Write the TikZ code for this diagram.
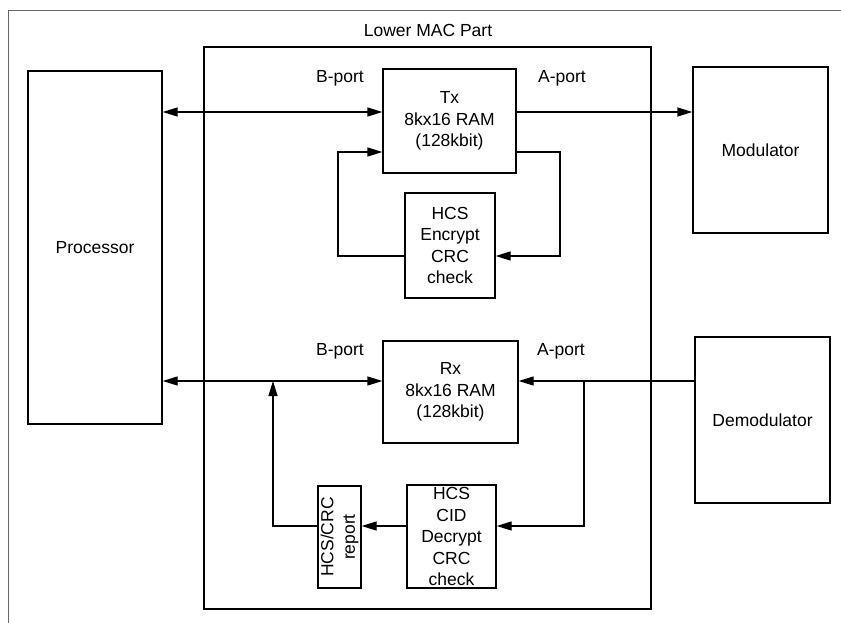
\documentclass[tikz,border=0pt]{standalone}
\usepackage{fontspec}
\setmainfont{Liberation Sans}
\usetikzlibrary{arrows.meta}
\begin{document}
\begin{tikzpicture}[x=1pt,y=-1pt,
  box/.style={draw, line width=1.3pt, inner sep=0pt, align=center,
    font=\fontsize{17.5}{21.5}\selectfont},
  lbl/.style={inner sep=0pt, font=\fontsize{17.5}{21.5}\selectfont},
  arr/.style={line width=1.3pt, -{Triangle[length=15pt,width=9pt]}},
  darr/.style={line width=1.3pt, {Triangle[length=15pt,width=9pt]}-{Triangle[length=15pt,width=9pt]}}]
\useasboundingbox (0,0) rectangle (841,623);
% outer frame (cut off at right and bottom)
\draw[line width=0.9pt, black!60] (8,623) -- (8,10) -- (841,10);
% blocks
\node[box, line width=2.2pt, minimum width=447pt, minimum height=562pt] (mac) at (427.5,328) {};
\node[lbl] (title) at (428,30) {Lower MAC Part};
\node[box, minimum width=134pt, minimum height=353pt] (proc) at (95,247.5) {Processor};
\node[box, minimum width=133pt, minimum height=104pt] (tx) at (449.5,121) {Tx\\8kx16 RAM\\(128kbit)};
\node[box, minimum width=90pt, minimum height=105pt] (enc) at (450,245.5) {HCS\\Encrypt\\CRC\\check};
\node[box, minimum width=135pt, minimum height=102pt] (rx) at (450.5,392) {Rx\\8kx16 RAM\\(128kbit)};
\node[box, minimum width=89pt, minimum height=103pt] (cid) at (451.5,536.5) {HCS\\CID\\Decrypt\\CRC\\check};
\node[box, minimum width=43pt, minimum height=102pt] (rep) at (339.5,537) {};
\node[lbl, rotate=90, align=center] (replbl) at (rep.center) {HCS/CRC\\report};
\node[box, minimum width=135pt, minimum height=166pt] (mod) at (760.5,150) {Modulator};
\node[box, minimum width=135pt, minimum height=166pt] (demod) at (762.5,420) {Demodulator};
% port labels
\node[lbl] (txb) at (340,78) {B-port};
\node[lbl] (txa) at (562,78) {A-port};
\node[lbl] (rxb) at (340,351) {B-port};
\node[lbl] (rxa) at (561,351) {A-port};
% helper coordinates
\coordinate (yA) at (0,112);
\coordinate (yL) at (0,152);
\coordinate (yE) at (0,256);
\coordinate (yR) at (0,381);
\coordinate (yC) at (0,526);
\coordinate (lx) at (338,0);
\coordinate (rx1) at (560,0);
\coordinate (upx) at (273,0);
\coordinate (brx) at (584,0);
\coordinate (junc) at (brx |- yR);
% Tx connections
\draw[darr] (proc.east |- yA) -- (tx.west |- yA);
\draw[arr] (tx.east |- yA) -- (mod.west |- yA);
\draw[arr] (enc.west |- yE) -- (lx |- yE) -- (lx |- yL) -- (tx.west |- yL);
\draw[arr] (tx.east |- yL) -- (rx1 |- yL) -- (rx1 |- yE) -- (enc.east |- yE);
% Rx connections
\draw[darr] (proc.east |- yR) -- (rx.west |- yR);
\draw[arr] (demod.west |- yR) -- (rx.east |- yR);
\draw[arr] (junc) -- (brx |- yC) -- (cid.east |- yC);
\draw[arr] (cid.west |- yC) -- (rep.east |- yC);
\draw[arr] (rep.west |- yC) -- (upx |- yC) -- (upx |- yR);
\end{tikzpicture}
\end{document}
